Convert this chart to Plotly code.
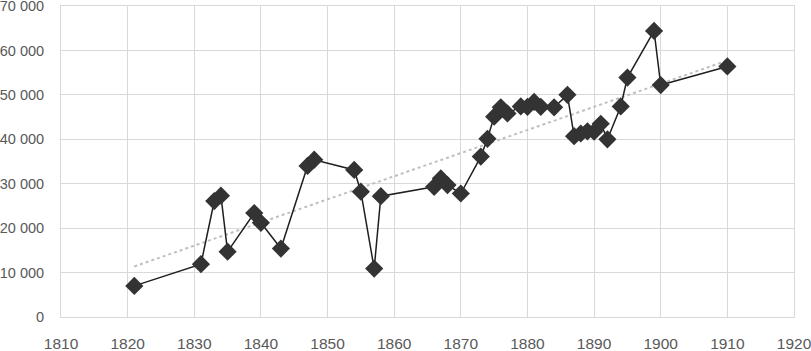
import numpy as np
import plotly.graph_objects as go

years = [1821, 1831, 1833, 1834, 1835, 1839, 1840, 1843, 1847, 1848, 1854, 1855, 1857, 1858,
         1866, 1867, 1868, 1870, 1873, 1874, 1875, 1876, 1877, 1879, 1880, 1881, 1882, 1884,
         1886, 1887, 1888, 1889, 1890, 1891, 1892, 1894, 1895, 1899, 1900, 1910]
values = [7000, 11900, 26100, 27300, 14700, 23400, 21200, 15400, 34000, 35400, 33100, 28200,
          10900, 27200, 29300, 31200, 29700, 27800, 36100, 40100, 45100, 47200, 45800, 47400,
          47300, 48400, 47300, 47200, 50000, 40700, 41300, 41800, 41700, 43500, 40000, 47400,
          53900, 64400, 52200, 56400]

x_ticks = list(range(1810, 1921, 10))
y_ticks = list(range(0, 70001, 10000))

coef = np.polyfit(years, values, 1)
trend_x = [years[0], years[-1]]
trend_y = [float(np.polyval(coef, v)) for v in trend_x]

fig = go.Figure()
fig.add_trace(go.Scatter(x=trend_x, y=trend_y, mode="lines",
                         line=dict(color="#bfbfbf", width=2, dash="dot"),
                         hoverinfo="skip", showlegend=False))
fig.add_trace(go.Scatter(x=years, y=values, mode="lines+markers",
                         line=dict(color="#1f1f1f", width=1.5),
                         marker=dict(symbol="diamond", size=14, color="#333333",
                                     line=dict(width=0)),
                         showlegend=False))

x_font = dict(family="Liberation Sans, Arial, sans-serif", size=15.5, color="#595959")
y_font = dict(family="Liberation Sans, Arial, sans-serif", size=14.5, color="#595959")
fig.update_layout(
    width=811, height=351,
    margin=dict(l=61, r=17, t=6, b=34, autoexpand=False),
    paper_bgcolor="white", plot_bgcolor="white",
    separators=". ",
    xaxis=dict(range=[1810, 1920], tickvals=x_ticks, showgrid=True, gridcolor="#d9d9d9",
               gridwidth=1, zeroline=False, showline=True, linecolor="#d9d9d9", mirror=True,
               tickfont=x_font, ticks="", ticklabelstandoff=12, automargin=False,
               ticklabeloverflow="allow"),
    yaxis=dict(range=[0, 70000], tickvals=y_ticks, tickformat=",d", showgrid=True,
               gridcolor="#d9d9d9", gridwidth=1, zeroline=False, showline=True,
               linecolor="#d9d9d9", mirror=True, tickfont=y_font, ticks="",
               ticklabelstandoff=13, automargin=False, ticklabeloverflow="allow"),
)
fig.write_html("out.html", config={"displayModeBar": False},
               post_script="document.body.style.margin='0';document.body.style.overflow='hidden';")
